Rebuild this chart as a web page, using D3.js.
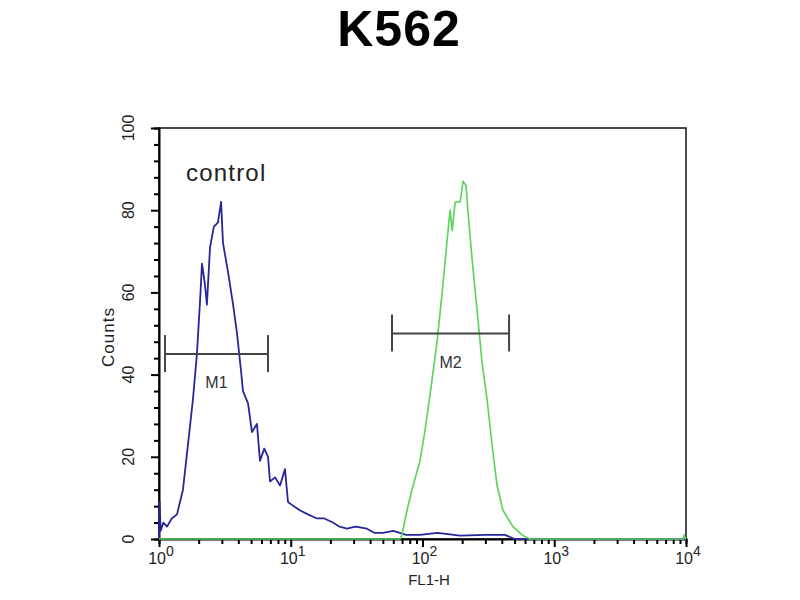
<!DOCTYPE html>
<html>
<head>
<meta charset="utf-8">
<script src="https://cdn.jsdelivr.net/npm/d3@7"></script>
<style>
  body { margin: 0; background: #fff; }
  svg { font-family: "Liberation Sans", Arial, sans-serif; }
</style>
</head>
<body>
<svg width="800" height="600"></svg>
<script>
// control histogram (blue) - FL1-H value / counts
const blueFL = [1.0, 1.01, 1.03, 1.08, 1.15, 1.25, 1.37, 1.52, 1.66, 1.81, 1.94, 2.05, 2.12, 2.23, 2.31, 2.44, 2.61, 2.80, 2.96, 3.06, 3.34, 3.65, 3.91, 4.19, 4.34, 4.74, 5.08, 5.54, 5.84, 6.3, 6.72, 6.96, 7.6, 8.29, 9.04, 9.53, 10.5, 11.7, 13.5, 15.8, 18, 20.9, 23.5, 26.7, 31, 37.9, 43, 50.1, 60, 75, 95.7, 130, 193, 300, 423, 503, 10000];
const blueCounts = [0, 9, 2, 4, 3, 5, 6, 12, 23, 34, 45, 58, 67, 62, 57, 71, 76, 77, 82, 72, 65, 57, 50, 41, 36, 33, 26, 28, 19, 22, 20, 14, 15, 13, 17, 9, 8, 7, 6, 5, 5, 4, 3, 2.5, 3, 2.5, 1.5, 1.5, 2, 1, 1, 1.5, 0.8, 1, 1, 0, 0];

// stained sample (green)
const greenFL = [1, 67.5, 69.9, 76.3, 83.2, 95.7, 104, 114, 129, 141, 153, 162, 168, 177, 193, 203, 214, 221, 238, 259, 283, 309, 337, 368, 408, 486, 569, 654, 9500, 9700, 9900, 10000];
const greenCounts = [0, 0, 1, 7, 12, 19, 26, 35, 48, 60, 72, 80, 75, 82, 82, 87, 86, 80, 68, 56, 43, 34, 23, 13, 7, 3, 1, 0, 0, 1, 0, 0];

// gates
const markerNames = ["M1", "M2"];
const markerLo = [1.11, 58.7];
const markerHi = [6.72, 454];
const markerLevel = [45, 50];

const yMajor = [0, 20, 40, 60, 80, 100];
const xDecades = [0, 1, 2, 3, 4];

const svg = d3.select("svg");
const margin = { top: 128, right: 114, bottom: 61, left: 159 };
const width = 800 - margin.left - margin.right;
const height = 600 - margin.top - margin.bottom;

const x = d3.scaleLog().domain([1, 10000]).range([0, width]);
const y = d3.scaleLinear().domain([0, 100]).range([height, 0]);

const g = svg.append("g")
  .attr("transform", "translate(" + margin.left + "," + margin.top + ")");

// title
svg.append("text")
  .attr("x", 399).attr("y", 46)
  .attr("text-anchor", "middle")
  .attr("font-size", 50).attr("font-weight", "bold")
  .attr("letter-spacing", 1)
  .text("K562");

// frame
g.append("rect")
  .attr("width", width).attr("height", height)
  .attr("fill", "none").attr("stroke", "#111").attr("stroke-width", 1.5);

// y axis
const yAxis = g.append("g")
  .call(d3.axisLeft(y).tickValues(d3.range(0, 101, 4)).tickSize(5).tickFormat(""));
yAxis.select(".domain").attr("stroke-width", 2);
yAxis.selectAll(".tick line")
  .attr("stroke-width", 2)
  .attr("x2", d => yMajor.includes(d) ? -8 : -5);

g.selectAll(".ylab")
  .data(yMajor)
  .enter().append("text")
  .attr("class", "ylab")
  .attr("transform", d => "translate(-25," + y(d) + ") rotate(-90)")
  .attr("text-anchor", "middle")
  .attr("font-size", 16).attr("fill", "#222")
  .text(d => d);

// x axis
const minorX = [];
xDecades.slice(0, -1).forEach(e => {
  for (let k = 1; k < 10; k++) minorX.push(k * Math.pow(10, e));
});
minorX.push(10000);
const xAxis = g.append("g")
  .attr("transform", "translate(0," + height + ")")
  .call(d3.axisBottom(x).tickValues(minorX).tickSize(5).tickFormat(""));
xAxis.select(".domain").attr("stroke-width", 2);
xAxis.selectAll(".tick line")
  .attr("stroke-width", 2)
  .attr("y2", d => Math.log10(d) % 1 === 0 ? 8 : 5);

const xl = g.selectAll(".xlab")
  .data(xDecades)
  .enter().append("text")
  .attr("class", "xlab")
  .attr("x", d => x(Math.pow(10, d)) + 2)
  .attr("y", height + 25)
  .attr("text-anchor", "middle")
  .attr("font-size", 16).attr("fill", "#222");
xl.append("tspan").text("10");
xl.append("tspan").attr("dy", -8).attr("font-size", 14).text(d => d);

// axis titles
svg.append("text")
  .attr("transform", "translate(114,337) rotate(-90)")
  .attr("text-anchor", "middle")
  .attr("font-size", 17).attr("letter-spacing", 1).attr("fill", "#222")
  .text("Counts");
svg.append("text")
  .attr("x", 429).attr("y", 585)
  .attr("text-anchor", "middle")
  .attr("font-size", 15).attr("fill", "#222")
  .text("FL1-H");

// curves
const line = d3.line().x(d => x(d[0])).y(d => y(d[1]));
const blue = blueFL.map((v, i) => [v, blueCounts[i]]);
const green = greenFL.map((v, i) => [v, greenCounts[i]]);

g.append("path").datum(blue)
  .attr("d", line).attr("fill", "none")
  .attr("stroke", "#27279a").attr("stroke-width", 1.8).attr("stroke-linejoin", "round");
g.append("path").datum(green)
  .attr("d", line).attr("fill", "none")
  .attr("stroke", "#5fd45f").attr("stroke-width", 1.7).attr("stroke-linejoin", "round");

// markers
markerNames.forEach((name, i) => {
  const x0 = x(markerLo[i]), x1 = x(markerHi[i]), yy = y(markerLevel[i]);
  const m = g.append("g").attr("stroke", "#444").attr("stroke-width", 2);
  m.append("line").attr("x1", x0).attr("x2", x1).attr("y1", yy).attr("y2", yy);
  m.append("line").attr("x1", x0).attr("x2", x0).attr("y1", yy - 19).attr("y2", yy + 18);
  m.append("line").attr("x1", x1).attr("x2", x1).attr("y1", yy - 19).attr("y2", yy + 18);
  g.append("text")
    .attr("x", (x0 + x1) / 2).attr("y", yy + 34)
    .attr("text-anchor", "middle")
    .attr("font-size", 16).attr("fill", "#333")
    .text(name);
});

// control label
svg.append("text")
  .attr("x", 186).attr("y", 181)
  .attr("font-size", 24).attr("letter-spacing", 1.2).attr("fill", "#222")
  .text("control");
</script>
</body>
</html>
